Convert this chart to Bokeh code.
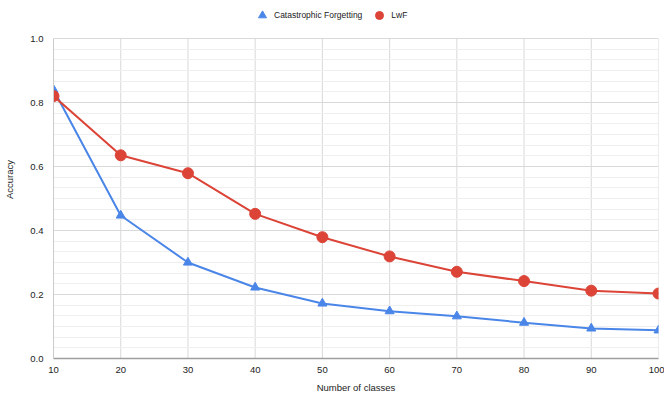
from bokeh.plotting import figure
from bokeh.models import (Range1d, SingleIntervalTicker, FixedTicker, PrintfTickFormatter,
                          Legend, LegendItem, ColumnDataSource)
from bokeh.embed import file_html
from bokeh.resources import INLINE

# Accuracy after each incremental step of 10 classes
num_classes = [10, 20, 30, 40, 50, 60, 70, 80, 90, 100]
catastrophic_forgetting = [0.840, 0.447, 0.300, 0.222, 0.172, 0.148, 0.132, 0.112, 0.094, 0.088]
lwf = [0.820, 0.635, 0.579, 0.452, 0.379, 0.319, 0.271, 0.242, 0.212, 0.203]
x_ticks = [10, 20, 30, 40, 50, 60, 70, 80, 90, 100]

FONT = "Liberation Sans"
BLUE = "#4a86e8"
RED = "#db4437"
GRID = "#d9d9d9"

# The frame runs to the top of the canvas so the legend can sit above the
# 0-1 data area; axis, grid and value lines are bounded to 0..1.
PLOT_H = 320          # pixel height of the 0..1 area
TOP_PAD = 38          # pixels above 1.0 reserved for the legend
y_top = 1.0 + TOP_PAD / PLOT_H

src = ColumnDataSource(dict(x=num_classes, cf=catastrophic_forgetting, lwf=lwf))

p = figure(width=664, height=396, output_backend="svg", toolbar_location=None,
           x_range=Range1d(10, 100), y_range=Range1d(0, y_top),
           min_border_left=53, min_border_right=6, min_border_top=0, min_border_bottom=38)
p.outline_line_color = None
p.background_fill_color = "white"
p.border_fill_color = "white"

# Vertical grid lines, limited to the data area
p.segment(x0=x_ticks, y0=0, x1=x_ticks, y1=1.0, line_color=GRID, line_width=1, level="underlay")

# Lines and markers
p.line("x", "cf", source=src, line_color=BLUE, line_width=2)
cf_pts = p.scatter("x", "cf", source=src, marker="triangle", size=9,
                   fill_color=BLUE, line_color=BLUE)
p.line("x", "lwf", source=src, line_color=RED, line_width=2)
lwf_pts = p.scatter("x", "lwf", source=src, marker="circle", size=11,
                    fill_color=RED, line_color=RED)

# Axes
p.xaxis.ticker = FixedTicker(ticks=x_ticks)
p.yaxis.ticker = SingleIntervalTicker(interval=0.2, num_minor_ticks=6)
p.yaxis.formatter = PrintfTickFormatter(format="%.1f")
p.yaxis.bounds = (0, 1.0)
for ax in (p.xaxis[0], p.yaxis[0]):
    ax.major_tick_line_color = None
    ax.minor_tick_line_color = None
    ax.major_label_text_font = FONT
    ax.major_label_text_font_size = "9.5px"
    ax.major_label_text_color = "#222222"
    ax.axis_label_text_font = FONT
    ax.axis_label_text_font_size = "9.5px"
    ax.axis_label_text_font_style = "normal"
    ax.axis_label_text_color = "#222222"

p.xaxis.axis_label = "Number of classes"
p.xaxis.axis_line_color = "#9e9e9e"
p.xaxis.axis_line_width = 1.5
p.xaxis.major_label_standoff = 2
p.xaxis.axis_label_standoff = 6

p.yaxis.axis_label = "Accuracy"
p.yaxis.axis_line_color = "#cccccc"
p.yaxis.major_label_standoff = 4
p.yaxis.axis_label_standoff = 12

# Horizontal grid (major + minor)
p.xgrid.visible = False
p.ygrid.bounds = (0, 1.0)
p.ygrid.grid_line_color = GRID
p.ygrid.minor_grid_line_color = "#efefef"

# Legend across the top
legend = Legend(items=[LegendItem(label="Catastrophic Forgetting", renderers=[cf_pts]),
                       LegendItem(label="LwF", renderers=[lwf_pts])],
                orientation="horizontal", location=(199, 333),
                glyph_width=20, glyph_height=20, label_standoff=2, spacing=7,
                padding=4, margin=0, border_line_color=None, background_fill_alpha=0,
                label_text_font=FONT, label_text_font_size="8.5px", label_text_color="#222222")
p.add_layout(legend, "center")

open("out.html", "w").write(file_html(p, INLINE))
